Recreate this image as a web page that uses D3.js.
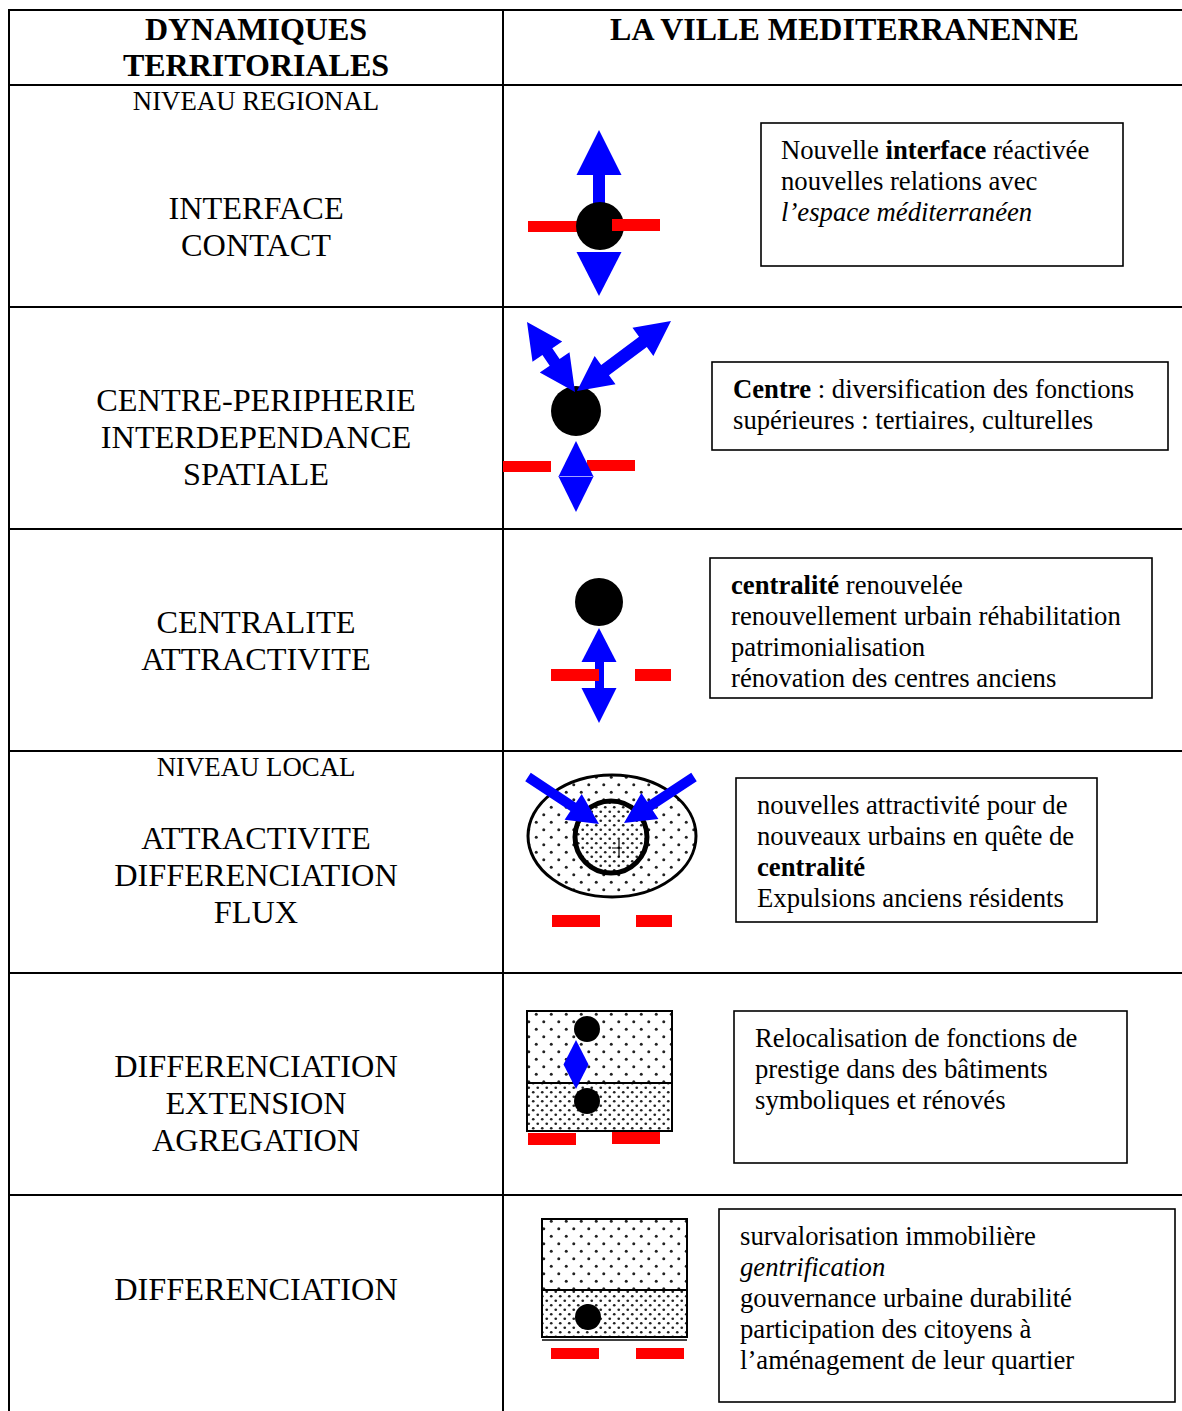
<!DOCTYPE html>
<html><head><meta charset="utf-8">
<script src="https://cdn.jsdelivr.net/npm/d3@7"></script>
<style>html,body{margin:0;padding:0;background:#fff;overflow:hidden}svg{display:block}</style>
</head><body>
<script>
// ---------- DATA ----------
const headerLeft = ["DYNAMIQUES", "TERRITORIALES"];
const headerRight = ["LA VILLE MEDITERRANENNE"];
const levelLabels = ["NIVEAU REGIONAL", "", "", "NIVEAU LOCAL", "", ""];
const dynamicLabels = [
  ["INTERFACE", "CONTACT"],
  ["CENTRE-PERIPHERIE", "INTERDEPENDANCE", "SPATIALE"],
  ["CENTRALITE", "ATTRACTIVITE"],
  ["ATTRACTIVITE", "DIFFERENCIATION", "FLUX"],
  ["DIFFERENCIATION", "EXTENSION", "AGREGATION"],
  ["DIFFERENCIATION"]
];
// **bold**, _italic_
const descriptions = [
  ["Nouvelle **interface** réactivée", "nouvelles relations avec", "_l’espace méditerranéen_"],
  ["**Centre** : diversification des fonctions", "supérieures : tertiaires, culturelles"],
  ["**centralité** renouvelée", "renouvellement urbain réhabilitation", "patrimonialisation", "rénovation des centres anciens"],
  ["nouvelles attractivité pour de", "nouveaux urbains en quête de", "**centralité**", "Expulsions anciens résidents"],
  ["Relocalisation de fonctions de", "prestige dans des bâtiments", "symboliques et rénovés"],
  ["survalorisation immobilière", "_gentrification_", "gouvernance urbaine durabilité", "participation des citoyens à", "l’aménagement de leur quartier"]
];
const rowIds = d3.range(dynamicLabels.length);

// ---------- LAYOUT ----------
const W = 1182, H = 1411;
const FONT = "'Liberation Serif','Times New Roman',serif";
const xCol = d3.scaleOrdinal().domain(["left", "mid", "right"]).range([9, 503, 1182]);
const yRow = d3.scaleBand().domain(rowIds).range([85, 85 + 222 * rowIds.length]);
const labelFirst = [134, 104, 104, 98, 104, 105];
const boxLayout = [
  {x: 761, y: 38, w: 362, h: 143, tx: 781, ty: 74},
  {x: 712, y: 55, w: 456, h: 88, tx: 733, ty: 91},
  {x: 710, y: 29, w: 442, h: 140, tx: 731, ty: 65},
  {x: 736, y: 27, w: 361, h: 144, tx: 757, ty: 63},
  {x: 734, y: 38, w: 393, h: 152, tx: 755, ty: 74},
  {x: 719, y: 14, w: 456, h: 193, tx: 740, ty: 50}
];

const svg = d3.select("body").append("svg").attr("width", W).attr("height", H);
const defs = svg.append("defs");
function dotPattern(id, step, r) {
  const p = defs.append("pattern").attr("id", id).attr("patternUnits", "userSpaceOnUse")
    .attr("width", step).attr("height", step);
  p.append("rect").attr("width", step).attr("height", step).attr("fill", "#fff");
  [[step * 0.25, step * 0.25], [step * 0.75, step * 0.75]].forEach(([cx, cy]) =>
    p.append("circle").attr("cx", cx).attr("cy", cy).attr("r", r).attr("fill", "#222"));
}
dotPattern("sparse", 15, 1.5);
dotPattern("dense", 9, 1.35);

// ---------- TABLE GRID ----------
const grid = svg.append("g").attr("stroke", "#000").attr("stroke-width", 2);
const hLines = [10].concat(rowIds.map(i => yRow(i)));
grid.selectAll("line.h").data(hLines).join("line").attr("class", "h")
  .attr("x1", xCol("left") - 1).attr("x2", xCol("right")).attr("y1", d => d).attr("y2", d => d);
grid.selectAll("line.v").data(["left", "mid"]).join("line").attr("class", "v")
  .attr("x1", d => xCol(d)).attr("x2", d => xCol(d)).attr("y1", 9).attr("y2", H + 5);

// ---------- HEADERS ----------
const leftCx = (xCol("left") + xCol("mid")) / 2;
const rightCx = (xCol("mid") + xCol("right")) / 2 + 2;
svg.selectAll("text.hl").data(headerLeft).join("text").attr("class", "hl")
  .attr("x", leftCx).attr("y", (d, i) => 40 + i * 36).attr("text-anchor", "middle")
  .attr("font-family", FONT).attr("font-weight", "bold").attr("font-size", 32).text(d => d);
svg.selectAll("text.hr").data(headerRight).join("text").attr("class", "hr")
  .attr("x", rightCx).attr("y", 40).attr("text-anchor", "middle")
  .attr("font-family", FONT).attr("font-weight", "bold").attr("font-size", 32).text(d => d);

// ---------- ROWS ----------
function parseSegments(line) {
  const segs = [];
  const re = /(\*\*[^*]+\*\*|_[^_]+_)/g;
  let last = 0, m;
  while ((m = re.exec(line)) !== null) {
    if (m.index > last) segs.push({t: line.slice(last, m.index), s: "n"});
    const tok = m[0];
    if (tok.startsWith("**")) segs.push({t: tok.slice(2, -2), s: "b"});
    else segs.push({t: tok.slice(1, -1), s: "i"});
    last = m.index + tok.length;
  }
  if (last < line.length) segs.push({t: line.slice(last), s: "n"});
  return segs;
}

const rows = svg.selectAll("g.row").data(rowIds).join("g").attr("class", "row")
  .attr("transform", i => `translate(0,${yRow(i)})`);

rows.each(function(i) {
  const g = d3.select(this);
  if (levelLabels[i]) {
    g.append("text").attr("x", leftCx).attr("y", 25).attr("text-anchor", "middle")
      .attr("font-family", FONT).attr("font-size", 26.8).text(levelLabels[i]);
  }
  g.selectAll("text.lab").data(dynamicLabels[i]).join("text").attr("class", "lab")
    .attr("x", leftCx).attr("y", (d, k) => labelFirst[i] + k * 37).attr("text-anchor", "middle")
    .attr("font-family", FONT).attr("font-size", 32.3).text(d => d);
  const b = boxLayout[i];
  g.append("rect").attr("x", b.x).attr("y", b.y).attr("width", b.w).attr("height", b.h)
    .attr("fill", "none").attr("stroke", "#000").attr("stroke-width", 1.6);
  g.selectAll("text.desc").data(descriptions[i]).join("text").attr("class", "desc")
    .attr("x", b.tx).attr("y", (d, k) => b.ty + k * 31)
    .attr("font-family", FONT).attr("font-size", 26.7)
    .each(function(line) {
      d3.select(this).selectAll("tspan").data(parseSegments(line)).join("tspan")
        .attr("font-weight", s => s.s === "b" ? "bold" : null)
        .attr("font-style", s => s.s === "i" ? "italic" : null)
        .text(s => s.t);
    });
});
svg.selectAll("text.desc").style("white-space", "pre");

// ---------- GLYPH HELPERS ----------
const BLUE = "#0000ff", RED = "#ff0000";
function arrowPoly(x1, y1, x2, y2, shaft, headL, headW, both) {
  const dx = x2 - x1, dy = y2 - y1, L = Math.hypot(dx, dy);
  const ux = dx / L, uy = dy / L, px = -uy, py = ux;
  const P = (t, o) => [x1 + ux * t + px * o, y1 + uy * t + py * o];
  const s = shaft / 2, h = headW / 2;
  return both
    ? [P(0, 0), P(headL, h), P(headL, s), P(L - headL, s), P(L - headL, h), P(L, 0),
       P(L - headL, -h), P(L - headL, -s), P(headL, -s), P(headL, -h)]
    : [P(0, s), P(L - headL, s), P(L - headL, h), P(L, 0), P(L - headL, -h), P(L - headL, -s), P(0, -s)];
}
const line = d3.line();
function poly(g, pts, fill) { g.append("path").attr("d", line(pts) + "Z").attr("fill", fill); }
function bar(g, x1, x2, y1, y2) {
  g.append("rect").attr("x", x1).attr("y", y1).attr("width", x2 - x1).attr("height", y2 - y1).attr("fill", RED);
}
function dot(g, cx, cy, r) { g.append("circle").attr("cx", cx).attr("cy", cy).attr("r", r).attr("fill", "#000"); }
function diamond(g, cx, top, bottom, hw, split) {
  const mid = (top + bottom) / 2;
  poly(g, [[cx, top], [cx + hw, mid], [cx, bottom], [cx - hw, mid]], BLUE);
  if (split) g.append("line").attr("x1", cx - hw + 1).attr("x2", cx + hw - 1).attr("y1", mid).attr("y2", mid)
    .attr("stroke", "#fff").attr("stroke-width", 0.8).attr("opacity", 0.8);
}

const glyphs = [
  g => { // interface
    poly(g, [[599, 45], [621.5, 90], [576.5, 90]], BLUE);
    g.append("rect").attr("x", 593).attr("y", 88).attr("width", 12).attr("height", 54).attr("fill", BLUE);
    poly(g, [[576.5, 167], [621.5, 167], [599, 211]], BLUE);
    bar(g, 528, 580, 136, 147);
    dot(g, 600, 141, 24);
    bar(g, 612, 660, 134, 146);
  },
  g => { // centre-peripherie
    dot(g, 576, 104, 25);
    poly(g, arrowPoly(527, 15, 575, 85, 12, 36, 36, true), BLUE);
    poly(g, arrowPoly(671, 14, 577, 84, 13, 35, 35, true), BLUE);
    bar(g, 503, 551, 154, 165);
    bar(g, 587, 635, 153, 164);
    diamond(g, 576, 134, 205, 17.5, true);
  },
  g => { // centralite
    dot(g, 599, 73, 24);
    poly(g, [[599, 99], [616.5, 133], [581.5, 133]], BLUE);
    g.append("rect").attr("x", 595).attr("y", 132).attr("width", 9).attr("height", 28).attr("fill", BLUE);
    poly(g, [[581.5, 159], [616.5, 159], [599, 194]], BLUE);
    bar(g, 551, 599, 140, 152);
    bar(g, 635, 671, 140, 152);
  },
  g => { // attractivite / flux
    g.append("ellipse").attr("cx", 612).attr("cy", 85).attr("rx", 84).attr("ry", 61)
      .attr("fill", "url(#sparse)").attr("stroke", "#000").attr("stroke-width", 3);
    g.append("circle").attr("cx", 611).attr("cy", 86).attr("r", 36)
      .attr("fill", "url(#dense)").attr("stroke", "#000").attr("stroke-width", 5);
    g.append("path").attr("d", "M612,97H622M619,89V106").attr("stroke", "#000").attr("stroke-width", 1.2);
    poly(g, arrowPoly(528, 26, 599, 73, 10, 31, 31, false), BLUE);
    poly(g, arrowPoly(694, 26, 624, 72, 10, 31, 31, false), BLUE);
    bar(g, 552, 600, 164, 176);
    bar(g, 636, 672, 164, 176);
  },
  g => { // extension / agregation
    g.append("rect").attr("x", 527).attr("y", 38).attr("width", 145).attr("height", 72).attr("fill", "url(#sparse)");
    g.append("rect").attr("x", 527).attr("y", 110).attr("width", 145).attr("height", 48).attr("fill", "url(#dense)");
    g.append("rect").attr("x", 527).attr("y", 38).attr("width", 145).attr("height", 120)
      .attr("fill", "none").attr("stroke", "#000").attr("stroke-width", 2);
    g.append("line").attr("x1", 527).attr("x2", 672).attr("y1", 110).attr("y2", 110).attr("stroke", "#000").attr("stroke-width", 2);
    dot(g, 587, 56, 13);
    dot(g, 587, 128, 13);
    diamond(g, 576, 67, 116, 12.5, false);
    bar(g, 528, 576, 160, 172);
    bar(g, 612, 660, 159, 171);
  },
  g => { // differenciation
    g.append("rect").attr("x", 542).attr("y", 24).attr("width", 145).attr("height", 71).attr("fill", "url(#sparse)");
    g.append("rect").attr("x", 542).attr("y", 95).attr("width", 145).attr("height", 47).attr("fill", "url(#dense)");
    g.append("rect").attr("x", 542).attr("y", 24).attr("width", 145).attr("height", 118)
      .attr("fill", "none").attr("stroke", "#000").attr("stroke-width", 2);
    g.append("line").attr("x1", 542).attr("x2", 687).attr("y1", 95).attr("y2", 95).attr("stroke", "#000").attr("stroke-width", 2);
    g.append("line").attr("x1", 542).attr("x2", 687).attr("y1", 145).attr("y2", 145).attr("stroke", "#000").attr("stroke-width", 1.5);
    dot(g, 588, 122, 13);
    bar(g, 551, 599, 153, 164);
    bar(g, 636, 684, 153, 164);
  }
];
rows.each(function(i) { glyphs[i](d3.select(this).append("g").attr("class", "glyph")); });
</script>
</body></html>
